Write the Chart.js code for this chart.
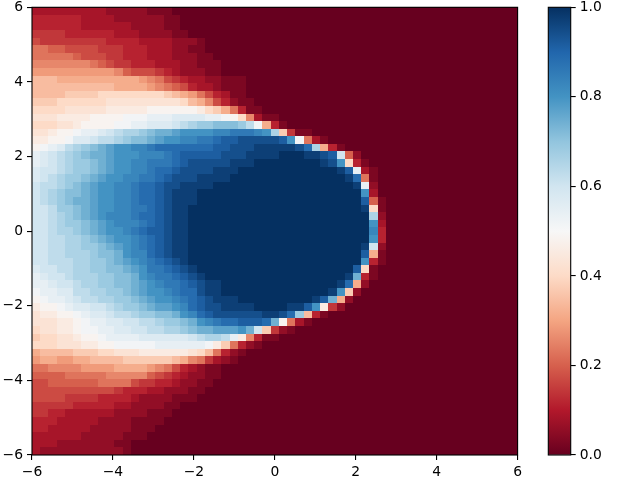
<!DOCTYPE html>
<html>
<head>
<meta charset="utf-8">
<script src="https://cdn.jsdelivr.net/npm/chart.js@4"></script>
<style>
  html, body { margin: 0; padding: 0; background: #fff; }
  canvas { position: absolute; left: 0; top: 0; }
</style>
</head>
<body>
<canvas id="heat" width="640" height="480"></canvas>
<canvas id="bar" width="640" height="480"></canvas>
<script>
// one string per row, top to bottom; each char is a base 36 level (0 -> 0.0, z -> 1.0)
// anything past the end of a row is level 0
const heatRows = [
  "33333333322222111",
  "444444333322222211",
  "444444333333222211",
  "5555444444333222211",
  "655555555444433332221",
  "887766665554443332211",
  "88888766655444333222110",
  "99999998765544433322111",
  "aaaaaaaaaa9766654322211",
  "cccbbbbbbbbbba986543322111",
  "ccccccccccbbbba98764332111",
  "ccccddddeeeeeeeedcba864311",
  "dddeeeeeefffffffffecb964211",
  "eeeefffffggggghhhhhhgedb8411",
  "fffgggghhhhiiijjjkkkkjjihe9311",
  "eeeffghhhhiijjkkklmnoopppomib41",
  "ffghhijjklmnnopqqrssssttuuutsnd511",
  "gghhikklmmnoppqrssttuuvwwxxxxxwsi831",
  "hijkmnopqrssttuvvvvvvvwwxxxyyyyyxvnb41",
  "jklmnopqqrssstttuvwwwwwxxxyyyyzzzyyxwl72",
  "jklmnoopqrssttuuuvwxxxxxyyyzzzzzzzzyxse41",
  "kllmnoopqrssttuvvwxxxxyyyzzzzzzzzzzzzywj31",
  "klmnoopqrssttuuvwxxxyyyyzzzzzzzzzzzzzzyv81",
  "lmmnopqrssttuvvwxxyyyyzzzzzzzzzzzzzzzzzyj2",
  "lmnoppqrssttuvvwxyyyzzzzzzzzzzzzzzzzzzzzs3",
  "lmnopqqrssttuvvwxyyyzzzzzzzzzzzzzzzzzzzzw71",
  "llmoopqrssttuuvwxyyzzzzzzzzzzzzzzzzzzzzzye1",
  "llmnopqrstttuvvwxyyzzzzzzzzzzzzzzzzzzzzzzn2",
  "llmnoopqrstttuvwxyyzzzzzzzzzzzzzzzzzzzzzzs3",
  "llmnnopqrsstuvwwxyyzzzzzzzzzzzzzzzzzzzzzzt4",
  "llmmnnopqrsstuvwxyyzzzzzzzzzzzzzzzzzzzzzzs4",
  "llmmnnoopqrstuvwxyyzzzzzzzzzzzzzzzzzzzzzyl2",
  "llmmnnnoppqsttvwxyyzzzzzzzzzzzzzzzzzzzzzwb1",
  "llmmmnnoopqrstuvwxyzzzzzzzzzzzzzzzzzzzzzs41",
  "kllmmnnooppqrsuuvwxyzzzzzzzzzzzzzzzzzzzwe1",
  "jkllmnnnooppqstuuvwxyzzzzzzzzzzzzzzzzzyq41",
  "jjkllmnnooppqrstuuvwxyyzzzzzzzzzzzzzzyvb2",
  "ijjkkmmnnoopqrsstuvvxyyzzzzzzzzzzzzzysd2",
  "hijjklmmnnoopqrsstuvwxyyyzzzzzzzzzywqb2",
  "ghhijkkllmnoopqrrstvwxxyyyyzzzzyywsg52",
  "fgghhijkklmmnooppqstvwxxxxxxyyxvoc41",
  "fffgghijjkkllmmnoopqstuvvwwwvqh831",
  "effgghiijjkkllmmnnopqqrrrsqld521",
  "deeffghhijjjjkkkkkklmnnmjg9411",
  "eeefffgghhiiiiijjjjjjigd8421",
  "bccccdddeefffggggggfec8421",
  "abbaabbccccddddddcb985321",
  "889999aaaabbbba98643211",
  "77778888899999765432211",
  "6677777788886554432211",
  "666666666654443322211",
  "66665555444432222111",
  "555554444433222211",
  "55443333332222111",
  "4443333322221111",
  "443333322222111",
  "33333322222111",
  "333222222211",
  "322222222221"
];
const gridCols = 59;
const xTicks = [-6, -4, -2, 0, 2, 4, 6];
const yTicks = [-6, -4, -2, 0, 2, 4, 6];
const barTicks = [0, 0.2, 0.4, 0.6, 0.8, 1];
const rdbu = ["#67001f", "#b2182b", "#d6604d", "#f4a582", "#fddbc7", "#f7f7f7",
              "#d1e5f0", "#92c5de", "#4393c3", "#2166ac", "#053061"];

const tickFont = { family: "'DejaVu Sans'", size: 13.89 };
const minus = v => String(v).replace("-", "\u2212");

function hex(c) {
  return [1, 3, 5].map(i => parseInt(c.substr(i, 2), 16));
}

function levelColor(v) {
  const p = v * (rdbu.length - 1);
  const i = Math.min(Math.floor(p), rdbu.length - 2);
  const a = hex(rdbu[i]), b = hex(rdbu[i + 1]);
  const t = p - i;
  const m = a.map((ch, k) => Math.round(ch + (b[k] - ch) * t));
  return `rgb(${m[0]},${m[1]},${m[2]})`;
}

const cellSize = 12 / gridCols;
const cells = [];
heatRows.forEach((row, r) => {
  const full = row.padEnd(gridCols, "0");
  for (let c = 0; c < gridCols; c++) {
    cells.push({
      x: -6 + (c + 0.5) * cellSize,
      y: 6 - (r + 0.5) * cellSize,
      v: parseInt(full[c], 36) / 35
    });
  }
});

// fills each scatter point as a cell, edges taken from the scales
const cellPlugin = {
  id: "cells",
  beforeDatasetsDraw(chart) {
    const { ctx, scales: { x, y } } = chart;
    ctx.save();
    chart.data.datasets[0].data.forEach(d => {
      const x0 = Math.round(x.getPixelForValue(d.x - cellSize / 2));
      const x1 = Math.round(x.getPixelForValue(d.x + cellSize / 2));
      const y0 = Math.round(y.getPixelForValue(d.y + cellSize / 2));
      const y1 = Math.round(y.getPixelForValue(d.y - cellSize / 2));
      ctx.fillStyle = levelColor(d.v);
      ctx.fillRect(x0, y0, x1 - x0, y1 - y0);
    });
    ctx.restore();
  }
};

const framePlugin = {
  id: "frame",
  afterDraw(chart) {
    const { ctx, chartArea: a } = chart;
    ctx.save();
    ctx.strokeStyle = "#000";
    ctx.lineWidth = 1.1;
    ctx.strokeRect(a.left, a.top, a.right - a.left, a.bottom - a.top);
    ctx.restore();
  }
};

function fixSize(s, prop, size) {
  s[prop] = size;
  s.paddingTop = s.paddingBottom = s.paddingLeft = s.paddingRight = 0;
}

function tickAxis(ticks, size, prop) {
  return {
    type: "linear",
    min: ticks[0],
    max: ticks[ticks.length - 1],
    afterBuildTicks: s => { s.ticks = ticks.map(value => ({ value })); },
    afterFit: s => fixSize(s, prop, size),
    border: { display: false },
    grid: { drawOnChartArea: false, drawTicks: true, tickLength: 5, tickColor: "#000", lineWidth: 1.1 },
    ticks: { color: "#000", font: tickFont, padding: 4, maxRotation: 0, autoSkip: false, callback: minus }
  };
}

new Chart(document.getElementById("heat"), {
  type: "scatter",
  data: { datasets: [{ data: cells, pointRadius: 0 }] },
  plugins: [cellPlugin, framePlugin],
  options: {
    responsive: false,
    animation: false,
    devicePixelRatio: 1,
    layout: { autoPadding: false, padding: { left: 0, right: 122.4, top: 7.3, bottom: 0 } },
    plugins: { legend: { display: false }, tooltip: { enabled: false } },
    scales: {
      x: tickAxis(xTicks, 25, "height"),
      y: tickAxis(yTicks, 32, "width")
    }
  }
});

new Chart(document.getElementById("bar"), {
  type: "bar",
  data: {
    labels: [""],
    datasets: [{
      data: [[0, 1]],
      barPercentage: 1,
      categoryPercentage: 1,
      borderWidth: 0,
      backgroundColor: ctx => {
        const a = ctx.chart.chartArea;
        if (!a) return rdbu[0];
        const g = ctx.chart.ctx.createLinearGradient(0, a.bottom, 0, a.top);
        rdbu.forEach((c, i) => g.addColorStop(i / (rdbu.length - 1), c));
        return g;
      }
    }]
  },
  plugins: [framePlugin],
  options: {
    responsive: false,
    animation: false,
    devicePixelRatio: 1,
    layout: { autoPadding: false, padding: { left: 548.3, right: 29.3, top: 7.3, bottom: 25 } },
    plugins: { legend: { display: false }, tooltip: { enabled: false } },
    scales: {
      x: { display: false },
      y: Object.assign(tickAxis(barTicks, 40, "width"), {
        position: "right",
        ticks: { color: "#000", font: tickFont, padding: 4, autoSkip: false, callback: v => v.toFixed(1) }
      })
    }
  }
});
</script>
</body>
</html>
